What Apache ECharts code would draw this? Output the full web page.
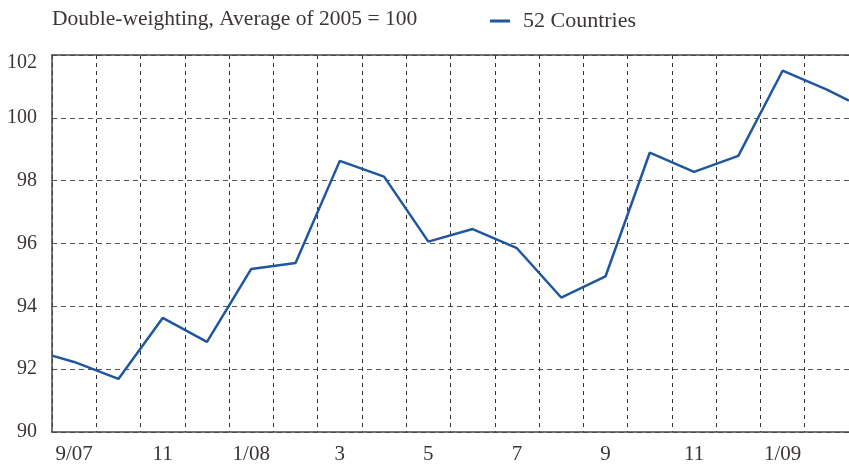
<!DOCTYPE html>
<html>
<head>
<meta charset="utf-8">
<script src="https://cdn.jsdelivr.net/npm/echarts@6/dist/echarts.min.js"></script>
<style>
  html, body { margin: 0; padding: 0; background: #fff; }
  #chart { width: 849px; height: 466px; }
</style>
</head>
<body>
<div id="chart"></div>
<script>
// month labels (one band per month)
const months = ['9/07', '10', '11', '12', '1/08', '2', '3', '4', '5', '6', '7', '8', '9', '10', '11', '12', '1/09', '2'];
// index value at the middle of each month
const countries52 = [92.23, 91.69, 93.63, 92.87, 95.19, 95.38, 98.63, 98.13, 96.06, 96.46, 95.85, 94.28, 94.95, 98.89, 98.28, 98.79, 101.5, 100.9];
// line continues to the plot edges
const edgeStart = 92.43;
const edgeEnd = 100.55;
const yTicks = [90, 92, 94, 96, 98, 100, 102];

const font = 'Liberation Serif';
const textColor = '#3b3535';
const axisColor = '#4a4545';

// series points on the hidden value axis: band i has its centre at i
const lineData = [[-0.5, edgeStart]]
  .concat(countries52.map((v, i) => [i, v]))
  .concat([[months.length - 0.5, edgeEnd]]);

const chart = echarts.init(document.getElementById('chart'));
chart.setOption({
  animation: false,
  title: {
    text: 'Double-weighting, Average of 2005 = 100',
    left: 47,
    top: 3,
    textStyle: { fontFamily: font, fontSize: 21.5, fontWeight: 'normal', color: textColor }
  },
  legend: {
    left: 485,
    top: 5,
    icon: 'rect',
    itemWidth: 20,
    itemHeight: 3,
    textStyle: { fontFamily: font, fontSize: 22, color: textColor, padding: [0, 0, 0, 8] },
    data: ['52 Countries']
  },
  grid: { left: 52, right: -6, top: 55, bottom: 34 },
  xAxis: [
    {
      type: 'category',
      data: months,
      boundaryGap: true,
      axisLine: { lineStyle: { color: axisColor, width: 1.5 } },
      axisTick: { show: false, interval: 0 },
      axisLabel: { interval: 1, margin: 12, fontFamily: font, fontSize: 21, color: textColor },
      splitLine: { show: true, interval: 0, lineStyle: { color: '#333', type: [4, 4], width: 1 } }
    },
    {
      type: 'value',
      position: 'top',
      min: -0.5,
      max: months.length - 0.5,
      axisLine: { show: true, onZero: false, lineStyle: { color: axisColor, width: 1.5 } },
      axisTick: { show: false },
      axisLabel: { show: false },
      splitLine: { show: false }
    }
  ],
  yAxis: {
    type: 'value',
    min: yTicks[0],
    max: yTicks[yTicks.length - 1],
    interval: 2,
    axisLine: { show: true, onZero: false, lineStyle: { color: axisColor, width: 1.5 } },
    axisTick: { show: false },
    axisLabel: {
      margin: 15,
      fontFamily: font,
      fontSize: 20,
      color: textColor,
      formatter: v => (v === 102 ? '{top|' + v + '}' : String(v)),
      rich: { top: { fontFamily: font, fontSize: 20, color: textColor, padding: [16, 0, 0, 0] } }
    },
    splitLine: { show: true, lineStyle: { color: '#555', type: [5, 4], width: 1 } }
  },
  series: [
    {
      name: '52 Countries',
      type: 'line',
      xAxisIndex: 1,
      data: lineData,
      symbol: 'none',
      itemStyle: { color: '#1f56a0' },
      lineStyle: { color: '#1f56a0', width: 2.5 }
    }
  ]
});
</script>
</body>
</html>
